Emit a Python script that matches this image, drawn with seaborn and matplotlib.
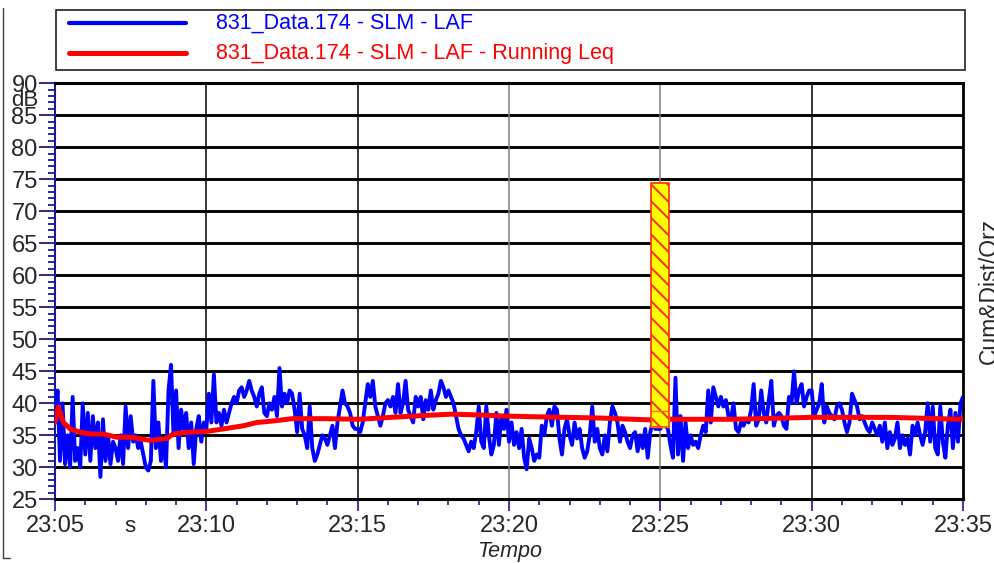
import numpy as np
import pandas as pd
import matplotlib
matplotlib.use("Agg")
import matplotlib.pyplot as plt
import matplotlib.dates as mdates
from matplotlib.lines import Line2D
from matplotlib.patches import Rectangle
from matplotlib.ticker import MultipleLocator
import seaborn as sns

# === DATA ===
start = pd.Timestamp("2000-01-01 23:05:00")
step_s = 5  # LAF sampled every 5 s

# LAF level, dB - one row per minute (12 samples), last value closes 23:35
laf_db = [
    37, 42, 31, 40, 30.5, 35, 30, 41, 31, 33, 30, 40,
    32, 38.5, 31, 38, 33, 37, 28.5, 37.5, 31, 35, 30.5, 34,
    33, 31, 35, 30.5, 39.5, 33, 38, 34, 35, 33, 34, 32,
    30, 29.5, 31, 43.5, 33, 37, 31, 34, 30, 42, 46, 35,
    42, 33, 39, 36, 38.5, 33, 37, 30.5, 36, 38, 34, 37,
    36, 41.5, 37, 44.5, 37, 38.5, 36.5, 39, 37, 38.5, 40, 41,
    40, 42, 42.5, 41, 42, 43.5, 42, 41, 39.5, 41.5, 42.5, 38.5,
    38, 40, 39, 41, 38, 45.5, 39.5, 41.5, 40, 42, 41.5, 39,
    35.5, 41.5, 36, 35, 33, 39.5, 33, 31, 32, 33.5, 35, 34.5,
    33.5, 35, 36.5, 33, 37, 39.5, 42, 40, 39.5, 38.5, 36.5, 36,
    36, 35.5, 37, 40, 43, 41, 43.5, 39.5, 38, 36.5, 38, 40,
    40.5, 39.5, 41, 38.5, 43, 38.5, 40, 43.5, 39, 38, 37, 41,
    39.5, 41, 37.5, 40.5, 39, 42, 39, 40.5, 41.5, 43.5, 42.5, 41,
    42, 41, 40, 38, 36, 35, 34.5, 33.5, 32.5, 34, 33, 35.5,
    39.5, 34, 33, 39.5, 35, 32, 33.5, 38.5, 33.5, 38, 36, 39,
    34, 37, 33.5, 35.5, 33, 36, 31.5, 29.7, 34.5, 33, 31, 32,
    31.5, 36.5, 35, 38, 39, 36.5, 39.5, 39, 34.5, 32, 36, 37.5,
    35, 33.5, 37, 34.5, 36, 33, 31.5, 32.5, 35, 39.5, 34, 36,
    33, 32, 35, 32.5, 37, 39.5, 38.5, 37, 34, 36.5, 35.5, 34,
    33, 35, 35.5, 32.5, 35, 33, 36, 31.5, 35.5, 37, 36, 36,
    36, 37, 36.5, 36, 33.5, 31.5, 44, 32, 38, 31, 37, 33,
    35, 33.5, 34, 33, 35, 36.5, 35.5, 42, 37, 42.5, 41, 39.5,
    41, 39.5, 40.5, 38, 37.5, 40, 36, 35.5, 37, 36.5, 37.5, 37,
    39, 43, 36.5, 37.5, 42, 38.5, 37, 40.5, 43.5, 36.5, 38, 38.5,
    38, 36.5, 36, 41, 40, 45, 40, 42, 43, 39.5, 41, 42,
    42, 38, 39, 40, 43, 37, 39.5, 38.5, 38, 37.5, 39.5, 40,
    39, 37, 35.5, 37, 41.5, 40.5, 39.5, 37.5, 38, 37, 36, 35.5,
    37, 36, 35, 36.5, 34, 37, 33, 35.5, 33.5, 34.5, 37, 33,
    35, 33.5, 34.5, 32, 36.5, 35, 37, 35, 33.5, 35.5, 40, 34,
    39.5, 33, 32, 39.5, 34, 31.5, 36.5, 39, 33, 38.5, 34, 40,
    41,
]

# Running Leq, read at these minutes after 23:05
leq_min = [0, 0.11, 0.28, 0.5, 0.83, 1.16, 1.6, 2.04, 2.5, 3.14, 3.7, 3.9,
           4.46, 5.0, 5.57, 6.23, 6.67, 7.33, 7.83, 8.93, 10.03, 11.1, 12.2,
           13.1, 13.9, 14.9, 15.8, 16.9, 18.0, 19.7, 20.3, 22.3, 25, 27.6, 30]
leq_db = [37, 39.4, 37, 36, 35.5, 35.2, 35.2, 34.7, 34.7, 34.2, 34.5, 35.2,
          35.5, 35.6, 36, 36.5, 37, 37.3, 37.6, 37.6, 37.5, 37.8, 38.1,
          38.3, 38.2, 38, 37.9, 37.8, 37.7, 37.4, 37.5, 37.5, 37.8, 37.8, 37.5]

# marked event at 23:25
event_min = 20
event_width_s = 36
event_low, event_high, event_mid = 36.3, 74.4, 38.8

series_labels = ["831_Data.174 - SLM - LAF", "831_Data.174 - SLM - LAF - Running Leq"]

laf_time = start + pd.to_timedelta(np.arange(len(laf_db)) * step_s, unit="s")
leq_time = start + pd.to_timedelta(np.array(leq_min) * 60, unit="s")
laf = pd.DataFrame({"time": laf_time, "db": laf_db})
leq = pd.DataFrame({"time": leq_time, "db": leq_db})

# === STYLE ===
sns.set_style("white")
plt.rcParams["font.family"] = ["Liberation Sans", "DejaVu Sans"]
plt.rcParams["hatch.linewidth"] = 1.4

W, H = 994, 563
fig = plt.figure(figsize=(W / 100, H / 100), dpi=100)
ax = fig.add_axes([55 / W, 1 - 499.3 / H, 908 / W, 416 / H])

navy = "#1a1a8c"

# horizontal grid (every 5 dB) and vertical lines every 5 minutes
for v in range(30, 90, 5):
    ax.axhline(v, color="black", lw=2.1, zorder=1)
for m in [5, 10, 15, 20, 25]:
    t = start + pd.Timedelta(minutes=m)
    gc = "#7f7f7f" if m in (15, 20) else "black"
    ax.axvline(t, color=gc, lw=1.1, zorder=1)

sns.lineplot(data=laf, x="time", y="db", ax=ax, color="#0000ff", lw=2.8,
             estimator=None, zorder=3)
sns.lineplot(data=leq, x="time", y="db", ax=ax, color="#ff0000", lw=3.6,
             estimator=None, zorder=4)

# event marker bar
ev_x = mdates.date2num(start + pd.Timedelta(minutes=event_min))
ev_w = event_width_s / 86400
ax.bar(ev_x, event_high - event_low, width=ev_w, bottom=event_low,
       color="#ffff00", edgecolor="#ff2a00", hatch="\\\\", lw=1.2, zorder=5)
ax.bar(ev_x, event_mid - event_low, width=ev_w, bottom=event_low,
       fill=False, edgecolor="#ff6a00", lw=1.0, zorder=6)

ax.set_xlim(start, start + pd.Timedelta(minutes=30))
ax.set_ylim(25, 90)
ax.xaxis.set_major_locator(mdates.MinuteLocator(byminute=range(0, 60, 5)))
ax.xaxis.set_major_formatter(mdates.DateFormatter("%H:%M"))
ax.xaxis.set_minor_locator(mdates.MinuteLocator())
ax.yaxis.set_major_locator(MultipleLocator(5))
ax.yaxis.set_minor_locator(MultipleLocator(1))

ax.tick_params(axis="y", which="major", direction="out", length=11.5, width=1.3,
               color=navy, labelsize=17, pad=1, left=True)
ax.tick_params(axis="y", which="minor", direction="out", length=5, width=1.3,
               color=navy, left=True)
ax.tick_params(axis="x", which="major", direction="out", length=8.5, width=1.2,
               color=navy, labelsize=17, pad=2.5, bottom=True)
ax.tick_params(axis="x", which="minor", direction="out", length=4.3, width=1.2,
               color=navy, bottom=True)
ax.set_xlabel("")
ax.set_ylabel("")

ax.spines["left"].set_color(navy)
ax.spines["left"].set_linewidth(1.5)
for s in ["top", "bottom"]:
    ax.spines[s].set_color("black")
    ax.spines[s].set_linewidth(2.2)
ax.spines["right"].set_color("black")
ax.spines["right"].set_linewidth(2.0)

# axis annotations
fig.text(25 / W, 1 - 101 / H, "dB", fontsize=16, ha="center", va="center")
fig.text(130 / W, 1 - 527 / H, "s", fontsize=16, ha="center", va="center")
fig.text(510 / W, 1 - 551 / H, "Tempo", fontsize=15.5, style="italic",
         ha="center", va="center")
fig.text(989 / W, 1 - 291 / H, "Cum&Dist/Orz", fontsize=16.5, rotation=90,
         ha="center", va="center")

# legend box drawn at the top of the figure
fig.patches.append(Rectangle((56 / W, 1 - 70 / H), 909 / W, 60 / H,
                             transform=fig.transFigure, fill=False,
                             edgecolor="#202020", lw=1.2))
for yy, col, lab, lw in [(23, "#0000ff", series_labels[0], 3.0),
                         (53, "#ff0000", series_labels[1], 3.6)]:
    fig.lines.append(Line2D([69 / W, 186 / W], [1 - yy / H, 1 - yy / H],
                            transform=fig.transFigure, color=col, lw=lw))
    fig.text(216 / W, 1 - yy / H, lab, color=col, fontsize=15.5,
             ha="left", va="center")

# outer frame on the left
fig.lines.append(Line2D([3 / W, 3 / W, 10 / W], [1 - 8 / H, 1 - 558 / H, 1 - 558 / H],
                        transform=fig.transFigure, color="#404040", lw=1.0))

fig.savefig("out.png", dpi=100)
